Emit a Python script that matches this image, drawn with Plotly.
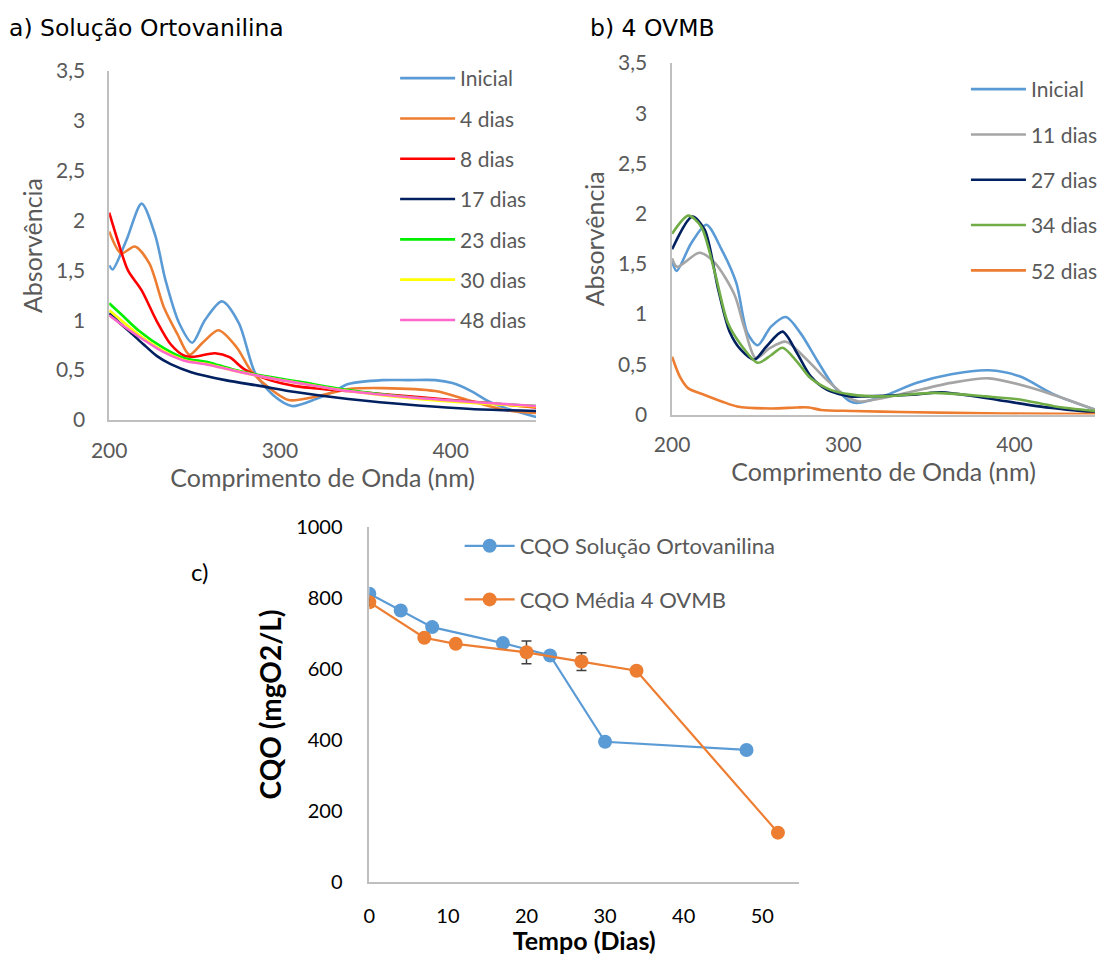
import plotly.graph_objects as go

# ---------------- Panel a) Solução Ortovanilina ----------------
a_names = ["Inicial", "4 dias", "8 dias", "17 dias", "23 dias", "30 dias", "48 dias"]
a_colors = ["#5B9BD5", "#ED7D31", "#FF0000", "#002060", "#00EE00", "#FFFF00", "#FF66CC"]

a_inicial_x = [200, 202, 210, 219, 227, 233, 241, 248.6, 256, 266, 276, 285.5, 297, 307, 321, 332, 340, 360, 375, 391, 401, 412, 422, 432, 450]
a_inicial_y = [1.55, 1.51, 1.80, 2.17, 1.85, 1.40, 0.97, 0.775, 1.00, 1.19, 0.97, 0.47, 0.235, 0.14, 0.21, 0.29, 0.36, 0.40, 0.40, 0.40, 0.37, 0.29, 0.19, 0.12, 0.03]

a_4d_x = [200, 207, 215, 223.5, 232, 240, 247, 255, 264, 274.6, 283, 293, 305, 320, 340, 360, 391, 412, 432, 450]
a_4d_y = [1.89, 1.67, 1.74, 1.57, 1.13, 0.86, 0.655, 0.78, 0.90, 0.73, 0.495, 0.33, 0.20, 0.23, 0.31, 0.32, 0.29, 0.19, 0.10, 0.07]

a_8d_x = [200, 205, 211, 219, 227.6, 236, 244, 250, 262, 270.5, 279, 295, 309, 340, 381, 422, 450]
a_8d_y = [2.08, 1.80, 1.50, 1.30, 1.00, 0.76, 0.645, 0.635, 0.67, 0.63, 0.51, 0.395, 0.34, 0.29, 0.23, 0.17, 0.127]

a_17d_x = [200, 207, 213, 220, 228, 236, 248, 268, 289, 309, 340, 381, 412, 450]
a_17d_y = [1.07, 0.96, 0.87, 0.76, 0.64, 0.56, 0.48, 0.40, 0.34, 0.28, 0.21, 0.145, 0.11, 0.09]

a_23d_x = [200, 207, 217, 232, 244, 258, 272, 291, 311, 340, 381, 422, 450]
a_23d_y = [1.17, 1.06, 0.90, 0.72, 0.62, 0.58, 0.51, 0.44, 0.385, 0.30, 0.22, 0.167, 0.14]

a_30d_x = [200, 207, 217, 232, 244, 258, 272, 291, 311, 340, 381, 422, 450]
a_30d_y = [1.10, 1.00, 0.86, 0.69, 0.60, 0.56, 0.50, 0.43, 0.37, 0.29, 0.21, 0.16, 0.135]

a_48d_x = [200, 207, 217, 232, 244, 258, 272, 291, 311, 340, 381, 422, 450]
a_48d_y = [1.05, 0.96, 0.84, 0.68, 0.595, 0.555, 0.50, 0.43, 0.37, 0.29, 0.22, 0.17, 0.14]

# ---------------- Panel b) 4 OVMB ----------------
b_names = ["Inicial", "11 dias", "27 dias", "34 dias", "52 dias"]
b_colors = ["#5B9BD5", "#A5A5A5", "#002060", "#70AD47", "#ED7D31"]

b_inicial_x = [200, 202.7, 211, 220, 229, 237.5, 244, 250, 257.8, 266.5, 275, 285, 294.5, 304, 308, 323, 343, 363, 385, 403, 423, 450]
b_inicial_y = [1.52, 1.43, 1.70, 1.89, 1.64, 1.31, 0.81, 0.69, 0.875, 0.97, 0.81, 0.53, 0.28, 0.13, 0.116, 0.18, 0.315, 0.40, 0.44, 0.38, 0.20, 0.03]

b_11d_x = [200, 203, 216, 225, 236.5, 242, 249, 257, 266.5, 277, 290.6, 302, 309, 333, 363, 385, 413, 450]
b_11d_y = [1.555, 1.47, 1.61, 1.51, 1.19, 0.875, 0.56, 0.66, 0.725, 0.575, 0.34, 0.18, 0.13, 0.20, 0.315, 0.36, 0.25, 0.03]

b_27d_x = [200, 211.8, 219, 227, 233.6, 240.4, 248, 255, 264.5, 273, 281, 290.6, 304, 313, 343, 357, 383, 413, 450]
b_27d_y = [1.645, 1.97, 1.84, 1.24, 0.825, 0.64, 0.545, 0.675, 0.825, 0.61, 0.38, 0.245, 0.18, 0.18, 0.20, 0.22, 0.165, 0.083, 0.015]

b_34d_x = [200, 209.5, 217, 225, 232.6, 240.4, 250, 257.8, 264.5, 273, 281, 292.6, 304, 323, 353, 383, 403, 423, 450]
b_34d_y = [1.80, 1.98, 1.87, 1.41, 0.91, 0.69, 0.515, 0.59, 0.665, 0.525, 0.36, 0.245, 0.20, 0.18, 0.215, 0.18, 0.15, 0.083, 0.03]

b_52d_x = [200, 204.6, 209.5, 219, 229, 238, 258, 273, 280, 287, 306, 333, 393, 450]
b_52d_y = [0.575, 0.375, 0.26, 0.195, 0.13, 0.08, 0.06, 0.07, 0.07, 0.045, 0.035, 0.025, 0.01, 0.005]

# ---------------- Panel c) CQO ----------------
c_orto_days = [0, 4, 8, 17, 23, 30, 48]
c_orto_cqo = [812, 765, 718, 673, 638, 395, 372]
c_ovmb_days = [0, 7, 11, 20, 27, 34, 52]
c_ovmb_cqo = [788, 688, 671, 647, 621, 595, 139]
c_ovmb_err = [10, 4, 4, 32, 25, 4, 4]

abs_ticks = [0, 0.5, 1, 1.5, 2, 2.5, 3, 3.5]
abs_ticktext = ["0", "0,5", "1", "1,5", "2", "2,5", "3", "3,5"]
wl_ticks = [200, 300, 400]
cqo_ticks = [0, 200, 400, 600, 800, 1000]
day_ticks = [0, 10, 20, 30, 40, 50]

W, H = 1103, 955
FONT = "Lato"
GRAY = "#595959"
AXC = "#BFBFBF"

fig = go.Figure()

a_series = [(a_inicial_x, a_inicial_y), (a_4d_x, a_4d_y), (a_8d_x, a_8d_y), (a_17d_x, a_17d_y),
            (a_23d_x, a_23d_y), (a_30d_x, a_30d_y), (a_48d_x, a_48d_y)]
for i, ((xs, ys), nm, col) in enumerate(zip(a_series, a_names, a_colors)):
    fig.add_trace(go.Scatter(x=xs, y=ys, name=nm, mode="lines",
                             line=dict(color=col, width=2.6, shape="spline", smoothing=0.8),
                             xaxis="x", yaxis="y", legend="legend", legendgroup="a%d" % i))

b_series = [(b_inicial_x, b_inicial_y), (b_11d_x, b_11d_y), (b_27d_x, b_27d_y),
            (b_34d_x, b_34d_y), (b_52d_x, b_52d_y)]
for i, ((xs, ys), nm, col) in enumerate(zip(b_series, b_names, b_colors)):
    fig.add_trace(go.Scatter(x=xs, y=ys, name=nm, mode="lines",
                             line=dict(color=col, width=2.6, shape="spline", smoothing=0.8),
                             xaxis="x2", yaxis="y2", legend="legend2", legendgroup="b%d" % i))

fig.add_trace(go.Scatter(x=c_orto_days, y=c_orto_cqo, name="CQO Solução Ortovanilina",
                         mode="lines+markers", line=dict(color="#5B9BD5", width=2.2),
                         marker=dict(color="#5B9BD5", size=14),
                         xaxis="x3", yaxis="y3", legend="legend3", legendgroup="c0"))
fig.add_trace(go.Scatter(x=c_ovmb_days, y=c_ovmb_cqo, name="CQO Média 4 OVMB",
                         mode="lines+markers", line=dict(color="#ED7D31", width=2.2),
                         marker=dict(color="#ED7D31", size=14),
                         error_y=dict(type="data", array=c_ovmb_err, visible=True,
                                      color="#404040", thickness=1.5, width=5),
                         xaxis="x3", yaxis="y3", legend="legend3", legendgroup="c1"))

def px_x(p):
    return p / W

def px_y(p):
    return 1 - p / H

ax_common = dict(showgrid=False, zeroline=False, showline=True, linecolor=AXC, linewidth=1.5,
                 ticks="", automargin=False)

fig.update_layout(
    width=W, height=H, margin=dict(l=0, r=0, t=0, b=0),
    paper_bgcolor="white", plot_bgcolor="white",
    font=dict(family=FONT, color=GRAY, size=18),
    xaxis=dict(ax_common, domain=[px_x(110), px_x(540)], range=[200, 450], anchor="y",
               tickvals=wl_ticks, tickfont=dict(size=21, color=GRAY), ticklabelstandoff=11,
               title=dict(text="Comprimento de Onda (nm)", font=dict(size=25, color=GRAY), standoff=6)),
    yaxis=dict(ax_common, domain=[px_y(420), px_y(71)], range=[0, 3.5], anchor="x",
               tickvals=abs_ticks, ticktext=abs_ticktext, tickfont=dict(size=21, color=GRAY),
               ticklabelstandoff=18,
               title=dict(text="Absorvência", font=dict(size=25, color=GRAY), standoff=6)),
    xaxis2=dict(ax_common, domain=[px_x(677), 1.0], range=[200, 447], anchor="y2",
                tickvals=wl_ticks, tickfont=dict(size=21, color=GRAY), ticklabelstandoff=11,
                title=dict(text="Comprimento de Onda (nm)", font=dict(size=25, color=GRAY), standoff=6)),
    yaxis2=dict(ax_common, domain=[px_y(414.5), px_y(63)], range=[0, 3.5], anchor="x2",
                tickvals=abs_ticks, ticktext=abs_ticktext, tickfont=dict(size=21, color=GRAY),
                ticklabelstandoff=19,
                title=dict(text="Absorvência", font=dict(size=25, color=GRAY), standoff=6)),
    xaxis3=dict(ax_common, domain=[px_x(372), px_x(805)], range=[0, 54.7], anchor="y3",
                tickvals=day_ticks, tickfont=dict(size=20, color="black"), ticklabelstandoff=15,
                title=dict(text="<b>Tempo (Dias)</b>", font=dict(size=25, color="black"), standoff=2)),
    yaxis3=dict(ax_common, domain=[px_y(882), px_y(527)], range=[0, 1000], anchor="x3",
                tickvals=cqo_ticks, tickfont=dict(size=20, color="black"), ticklabelstandoff=21,
                title=dict(text="<b>CQO (mgO2/L)</b>", font=dict(size=28, color="black"), standoff=6)),
    legend=dict(x=px_x(398), y=px_y(58), xanchor="left", yanchor="top", bgcolor="rgba(0,0,0,0)",
                font=dict(size=21, color=GRAY), tracegroupgap=10, traceorder="grouped", itemwidth=55),
    legend2=dict(x=px_x(973), y=px_y(69), xanchor="left", yanchor="top", bgcolor="rgba(0,0,0,0)",
                 font=dict(size=21, color=GRAY), tracegroupgap=15, traceorder="grouped", itemwidth=55),
    legend3=dict(x=px_x(463), y=px_y(525), xanchor="left", yanchor="top", bgcolor="rgba(0,0,0,0)",
                 font=dict(size=22, color=GRAY), tracegroupgap=22, traceorder="grouped", itemwidth=50),
    annotations=[
        dict(text="a) Solução Ortovanilina", x=px_x(7), y=px_y(28), xref="paper", yref="paper",
             xanchor="left", yanchor="middle", showarrow=False,
             font=dict(family="DejaVu Sans", size=23.5, color="black")),
        dict(text="b) 4 OVMB", x=px_x(592), y=px_y(28), xref="paper", yref="paper",
             xanchor="left", yanchor="middle", showarrow=False,
             font=dict(family="DejaVu Sans", size=23.5, color="black")),
        dict(text="c)", x=px_x(190), y=px_y(571), xref="paper", yref="paper",
             xanchor="left", yanchor="middle", showarrow=False,
             font=dict(family=FONT, size=24, color="black")),
    ],
)

fig.write_html("out.html")
